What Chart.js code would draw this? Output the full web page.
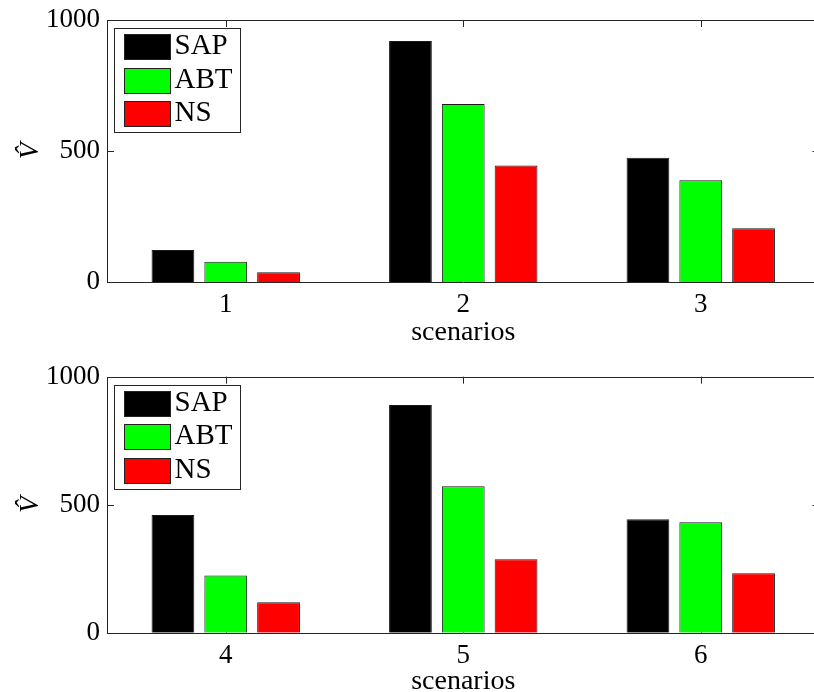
<!DOCTYPE html>
<html>
<head>
<meta charset="utf-8">
<script src="https://cdn.jsdelivr.net/npm/chart.js@4"></script>
<style>
  html, body { margin: 0; padding: 0; background: #fff; overflow: hidden; }
  #wrap { position: relative; width: 814px; height: 692px; overflow: hidden; }
  canvas { position: absolute; left: 0; }
  #top { top: 0; }
  #bottom { top: 346px; }
</style>
</head>
<body>
<div id="wrap">
  <canvas id="top" width="822" height="360"></canvas>
  <canvas id="bottom" width="822" height="360"></canvas>
</div>
<script>
const seriesNames = ["SAP", "ABT", "NS"];
const topScenarios = ["1", "2", "3"];
const topSAP = [122, 920, 474];
const topABT = [77, 679, 388];
const topNS = [37, 445, 205];
const bottomScenarios = ["4", "5", "6"];
const bottomSAP = [460, 889, 443];
const bottomABT = [223, 572, 431];
const bottomNS = [119, 287, 232];
const yTicks = [0, 500, 1000];

const colors = ["#000000", "#00ff00", "#ff0000"];

Chart.defaults.font.family = "'Liberation Serif', 'Times New Roman', serif";
Chart.defaults.color = "#000";

// matlab-style box with inward ticks (right side of the box falls off the page)
const frame = {
  id: "frame",
  beforeDatasetsDraw(chart) {
    const { ctx, chartArea: a, scales: { x, y } } = chart;
    const l = Math.round(a.left) + 0.5, t = Math.round(a.top) + 0.5, b = Math.round(a.bottom) + 0.5;
    ctx.save();
    ctx.strokeStyle = "#262626";
    ctx.lineWidth = 1;
    ctx.beginPath();
    y.ticks.forEach(tk => {
      const py = Math.round(y.getPixelForValue(tk.value)) + 0.5;
      ctx.moveTo(a.left, py); ctx.lineTo(a.left + 7, py);
      ctx.moveTo(a.right, py); ctx.lineTo(a.right - 7, py);
    });
    x.ticks.forEach((tk, i) => {
      const px = Math.round(x.getPixelForTick(i)) + 0.5;
      ctx.moveTo(px, a.top); ctx.lineTo(px, a.top + 7);
      ctx.moveTo(px, a.bottom); ctx.lineTo(px, a.bottom - 7);
    });
    ctx.moveTo(a.right, t); ctx.lineTo(l, t); ctx.lineTo(l, b); ctx.lineTo(a.right, b);
    ctx.stroke();
    ctx.restore();
  }
};

const boxLegend = {
  id: "boxLegend",
  afterDatasetsDraw(chart) {
    const { ctx, chartArea: a } = chart;
    const bx = Math.round(a.left + 6.5) + 0.5, by = Math.round(a.top + 8.3) + 0.5;
    ctx.save();
    ctx.fillStyle = "#fff";
    ctx.fillRect(bx, by, 126, 104);
    ctx.strokeStyle = "#262626";
    ctx.lineWidth = 1;
    ctx.strokeRect(bx, by, 126, 104);
    ctx.font = "29px 'Liberation Serif'";
    ctx.textBaseline = "middle";
    chart.data.datasets.forEach((ds, i) => {
      const sx = Math.round(a.left + 16.5) + 0.5;
      const sy = Math.round(a.top + 14 + i * 33.5) + 0.5;
      ctx.fillStyle = ds.backgroundColor;
      ctx.fillRect(sx, sy, 46, 25);
      ctx.strokeStyle = "#222";
      ctx.strokeRect(sx, sy, 46, 25);
      ctx.fillStyle = "#000";
      ctx.fillText(ds.label, a.left + 67.5, sy + 12);
    });
    ctx.restore();
  }
};

function makeChart(id, labels, sap, abt, ns, padTop, xHeight, titlePad) {
  const values = [sap, abt, ns];
  return new Chart(document.getElementById(id), {
    type: "bar",
    data: {
      labels: labels,
      datasets: seriesNames.map((name, i) => ({
        label: name,
        data: values[i],
        backgroundColor: colors[i],
        borderColor: "#1a1a1a",
        borderWidth: 1,
        categoryPercentage: 0.667,
        barPercentage: 0.81
      }))
    },
    options: {
      responsive: false,
      animation: false,
      layout: { padding: { top: padTop, right: 2.5, left: 0, bottom: 0 } },
      plugins: { legend: { display: false }, tooltip: { enabled: false } },
      scales: {
        x: {
          grid: { display: false, drawTicks: false },
          border: { display: false },
          ticks: { font: { size: 27 }, padding: 7, color: "#000" },
          title: { display: true, text: "scenarios", font: { size: 28 }, padding: { top: 0, bottom: titlePad }, color: "#000" },
          afterFit: s => { s.height = xHeight; s.paddingLeft = 0; s.paddingRight = 0; }
        },
        y: {
          min: 0,
          max: 1000,
          afterBuildTicks: s => { s.ticks = yTicks.map(v => ({ value: v })); },
          grid: { display: false, drawTicks: false },
          border: { display: false },
          ticks: { font: { size: 27 }, padding: 7, color: "#000", callback: v => String(v) },
          title: { display: true, text: "V\u0302", font: { size: 27, style: "italic" }, padding: { top: 15, bottom: 0 }, color: "#000" },
          afterFit: s => { s.width = 107; s.paddingTop = 0; s.paddingBottom = 0; }
        }
      }
    },
    plugins: [frame, boxLegend]
  });
}

makeChart("top", topScenarios, topSAP, topABT, topNS, 20, 78, 11);
makeChart("bottom", bottomScenarios, bottomSAP, bottomABT, bottomNS, 30.7, 73.3, 7.7);
</script>
</body>
</html>
